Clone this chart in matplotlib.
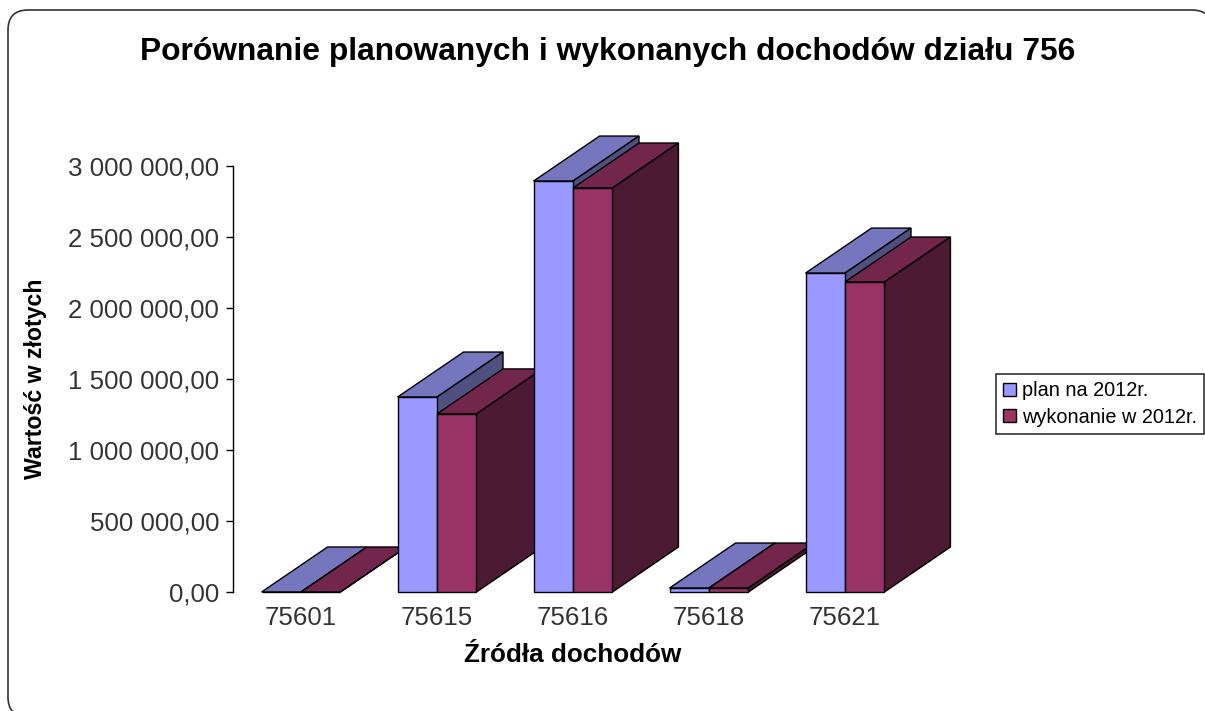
import matplotlib
matplotlib.use("Agg")
import matplotlib.pyplot as plt
from matplotlib.patches import FancyBboxPatch, Patch, Polygon
from matplotlib.transforms import IdentityTransform

categories = ["75601", "75615", "75616", "75618", "75621"]
plan = [0, 1373000, 2894000, 28000, 2246000]
wykonanie = [0, 1254000, 2845000, 28000, 2183000]
yticks = [0, 500000, 1000000, 1500000, 2000000, 2500000, 3000000]
ylabels = ["0,00", "500 000,00", "1 000 000,00", "1 500 000,00",
           "2 000 000,00", "2 500 000,00", "3 000 000,00"]

plt.rcParams["font.family"] = ["Liberation Sans", "DejaVu Sans"]

W, H = 1205, 711
fig = plt.figure(figsize=(W / 100, H / 100), dpi=100)
ax = fig.add_axes([233 / W, (H - 592) / H, 680 / W, 426 / H])
ax.set_xlim(0, 5)
ax.set_ylim(0, 3000000)

bar_w = 0.29
# depth of the fake 3d, in data units
dx = 66 / 136
dy = 45 / 142 * 1000000


def box(x, v, front, top, side):
    x2 = x + bar_w
    top_pts = [(x, v), (x + dx, v + dy), (x2 + dx, v + dy), (x2, v)]
    side_pts = [(x2, 0), (x2 + dx, dy), (x2 + dx, v + dy), (x2, v)]
    front_pts = [(x, 0), (x, v), (x2, v), (x2, 0)]
    for pts, col in [(top_pts, top), (side_pts, side), (front_pts, front)]:
        ax.add_patch(Polygon(pts, closed=True, facecolor=col, edgecolor="black",
                             linewidth=1.0, clip_on=False))


for i in range(len(categories)):
    c = i + 0.5
    box(c - bar_w, plan[i], "#9999FF", "#7676BF", "#4F4F80")
    box(c, wykonanie[i], "#993366", "#73264C", "#4C1A33")

for s in ["top", "right", "bottom"]:
    ax.spines[s].set_visible(False)
ax.spines["left"].set_linewidth(1.0)
ax.set_yticks(yticks)
ax.set_yticklabels(ylabels, fontsize=18.6, color="#333333")
ax.set_xticks([i + 0.5 for i in range(len(categories))])
ax.set_xticklabels(categories, fontsize=18.6, color="#333333")
ax.tick_params(axis="y", length=5, width=1.0, pad=5)
ax.tick_params(axis="x", length=0, pad=10)

fig.text(608 / W, 1 - 52 / H, "Porównanie planowanych i wykonanych dochodów działu 756",
         ha="center", va="center", fontsize=22.9, fontweight="bold")
fig.text(573 / W, 1 - 655 / H, "Źródła dochodów", ha="center", va="center",
         fontsize=18.8, fontweight="bold")
fig.text(36 / W, 1 - 379 / H, "Wartość w złotych", ha="center", va="center",
         rotation=90, fontsize=16.7, fontweight="bold")

handles = [Patch(facecolor="#9999FF", edgecolor="black", label="plan na 2012r."),
           Patch(facecolor="#993366", edgecolor="black", label="wykonanie w 2012r.")]
leg = fig.legend(handles=handles, loc="upper left", bbox_to_anchor=(996 / W, 1 - 374 / H),
                 borderaxespad=0, fontsize=14.3, fancybox=False, framealpha=1,
                 edgecolor="#333333", handlelength=0.65, handleheight=0.65,
                 handletextpad=0.3, borderpad=0.36, labelspacing=0.38)
leg.get_frame().set_linewidth(1.2)

# outer rounded frame, runs off the right and the bottom edge
# flattened to a polygon, agg garbles the bezier corners outside the canvas
r = 20
rounded = FancyBboxPatch((8 + r, -6 + r), 1204 - 2 * r, 707 - 2 * r,
                         boxstyle=f"round,pad={r},rounding_size={r}")
outline = rounded.get_path().to_polygons(closed_only=False)[0]
frame = Polygon(outline, closed=True, fill=False, edgecolor="#333333",
                linewidth=1.2, transform=IdentityTransform())
fig.add_artist(frame)

fig.savefig("out.png", dpi=100)
